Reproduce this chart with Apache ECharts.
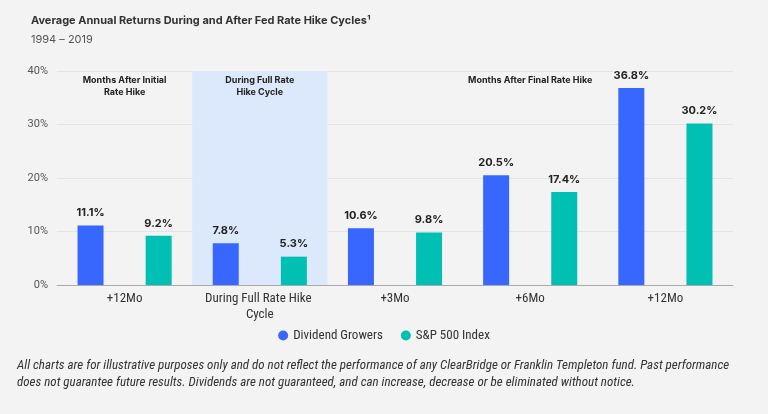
<!DOCTYPE html>
<html><head><meta charset="utf-8">
<script src="https://cdn.jsdelivr.net/npm/echarts@6/dist/echarts.min.js"></script>
<style>html,body{margin:0;padding:0;background:#f3f3f3}#c{width:768px;height:414px}</style>
</head><body><div id="c"></div>
<script>
const categories = ['+12Mo', 'During Full Rate Hike Cycle', '+3Mo', '+6Mo', '+12Mo'];
const dividendGrowers = [11.1, 7.8, 10.6, 20.5, 36.8];
const sp500 = [9.2, 5.3, 9.8, 17.4, 30.2];
const yTicks = [0, 10, 20, 30, 40];
const groupNotes = [
  {text: 'Months After Initial\nRate Hike', cat: 0},
  {text: 'During Full Rate\nHike Cycle', cat: 1},
  {text: 'Months After Final Rate Hike', cat: 3}
];
const NARROW = '"Liberation Sans Narrow","Roboto Condensed",Roboto,sans-serif';
const chart = echarts.init(document.getElementById('c'));
const labelStyle = {show: true, position: 'top', distance: 7, formatter: p => p.value.toFixed(1) + '%',
  fontFamily: 'Inter, sans-serif', fontWeight: 'bold', fontSize: 11, color: '#222'};
chart.setOption({
  backgroundColor: '#f3f3f3',
  animation: false,
  title: {text: 'Average Annual Returns During and After Fed Rate Hike Cycles\u00b9', subtext: '1994 \u2013 2019',
    left: 26, top: 10, itemGap: 8,
    textStyle: {fontFamily: 'Inter, sans-serif', fontSize: 11, fontWeight: 'bold', color: '#333'},
    subtextStyle: {fontFamily: 'Inter, sans-serif', fontSize: 11, color: '#555'}},
  legend: {bottom: 67, icon: 'circle', itemWidth: 10, itemHeight: 10, itemGap: 18,
    textStyle: {fontFamily: NARROW, fontSize: 13, color: '#333'}},
  grid: {left: 57, right: 35, top: 71, bottom: 129},
  xAxis: {type: 'category', data: categories,
    axisLine: {lineStyle: {color: '#aaa'}}, axisTick: {show: false},
    axisLabel: {fontFamily: NARROW, fontSize: 13, color: '#333', margin: 6, width: 120, overflow: 'break', interval: 0, lineHeight: 16},
    splitArea: {show: true, areaStyle: {color: ['rgba(0,0,0,0)', '#dce8fc', 'rgba(0,0,0,0)', 'rgba(0,0,0,0)', 'rgba(0,0,0,0)']}}},
  yAxis: {type: 'value', min: yTicks[0], max: yTicks[yTicks.length - 1], interval: 10,
    axisLabel: {formatter: '{value}%', fontFamily: 'Roboto, sans-serif', fontSize: 11, color: '#555', margin: 9},
    splitLine: {lineStyle: {color: '#e4e4e4'}}},
  series: [
    {name: 'Dividend Growers', type: 'bar', data: dividendGrowers, barWidth: 26, barGap: '162%',
      itemStyle: {color: '#3767ff'}, label: labelStyle},
    {name: 'S&P 500 Index', type: 'bar', data: sp500, barWidth: 26,
      itemStyle: {color: '#00bfb3'}, label: labelStyle}
  ]
});
const noteY = chart.convertToPixel({yAxisIndex: 0}, 39.3);
const graphics = groupNotes.map(n => ({
  type: 'text', x: chart.convertToPixel({xAxisIndex: 0}, n.cat), y: noteY,
  style: {text: n.text, fill: '#222', font: 'bold 9px Inter, sans-serif', align: 'center', verticalAlign: 'top', lineHeight: 12}
}));
graphics.push({type: 'text', left: 17, top: 357,
  style: {text: 'All charts are for illustrative purposes only and do not reflect the performance of any ClearBridge or Franklin Templeton fund. Past performance\ndoes not guarantee future results. Dividends are not guaranteed, and can increase, decrease or be eliminated without notice.',
    fill: '#333', font: 'italic 13px ' + NARROW, lineHeight: 17}});
chart.setOption({graphic: graphics});
</script></body></html>
